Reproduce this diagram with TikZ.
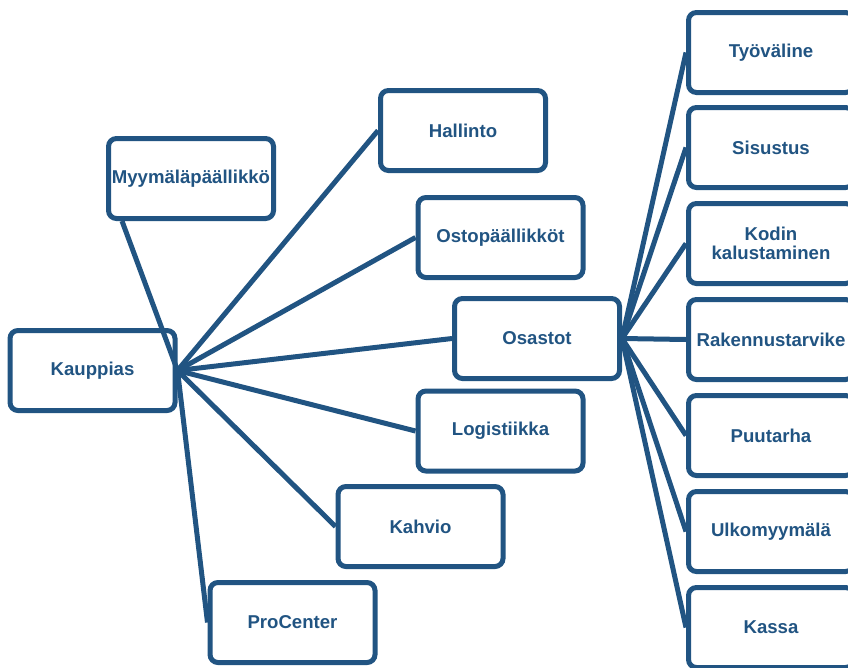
\documentclass[tikz,border=0pt]{standalone}
\usepackage{fontspec}
\setmainfont{Liberation Sans}
\usepackage{tikz}
\usetikzlibrary{positioning}
\definecolor{orgblue}{RGB}{33,84,130}
\tikzset{box/.style = {draw = orgblue, line width = 5pt, rounded corners = 8pt, fill = white,
                       minimum width = 165pt, minimum height = 80pt, align = center,
                       text = orgblue, font = \fontsize{18.6}{19.5}\selectfont\bfseries}}
\tikzset{link/.style = {draw = orgblue, line width = 5pt}}

\begin{document}
\begin{tikzpicture}[x = 1pt, y = -1pt]
    \useasboundingbox (0, 0) rectangle (848, 667);
    \clip (0, 0) rectangle (848, 667);

    \node [box] (kauppias) at (92.5, 370.5) {Kauppias};
    \node [box] (myymala) at (191, 178.5) {Myymäläpäällikkö};

    \node [box] (hallinto) at (463, 130.5) {Hallinto};
    \node [box] (osto) at (500.5, 237.5) {Ostopäällikköt};
    \node [box] (osastot) at (537, 338.5) {Osastot};
    \node [box] (logistiikka) at (500.5, 431) {Logistiikka};
    \node [box] (kahvio) at (420.5, 526.5) {Kahvio};
    \node [box] (procenter) at (292.5, 622.5) {ProCenter};

    \node [box] (tyovaline) at (771, 52.5) {Työväline};
    \node [box] (sisustus) at (771, 147.5) {Sisustus};
    \node [box] (kodin) at (771, 243.5) {Kodin\\kalustaminen};
    \node [box] (rakennus) at (771, 339.5) {Rakennustarvike};
    \node [box] (puutarha) at (771, 435.5) {Puutarha};
    \node [box] (ulko) at (771, 531.5) {Ulkomyymälä};
    \node [box] (kassa) at (771, 627.5) {Kassa};

    \draw [link] (kauppias.east) -- ([xshift = 16pt] myymala.south west);
    \draw [link] (kauppias.east) -- (hallinto.west);
    \draw [link] (kauppias.east) -- (osto.west);
    \draw [link] (kauppias.east) -- (osastot.west);
    \draw [link] (kauppias.east) -- (logistiikka.west);
    \draw [link] (kauppias.east) -- (kahvio.west);
    \draw [link] (kauppias.east) -- (procenter.west);

    \draw [link] (osastot.east) -- (tyovaline.west);
    \draw [link] (osastot.east) -- (sisustus.west);
    \draw [link] (osastot.east) -- (kodin.west);
    \draw [link] (osastot.east) -- (rakennus.west);
    \draw [link] (osastot.east) -- (puutarha.west);
    \draw [link] (osastot.east) -- (ulko.west);
    \draw [link] (osastot.east) -- (kassa.west);
  \end{tikzpicture}
\end{document}
